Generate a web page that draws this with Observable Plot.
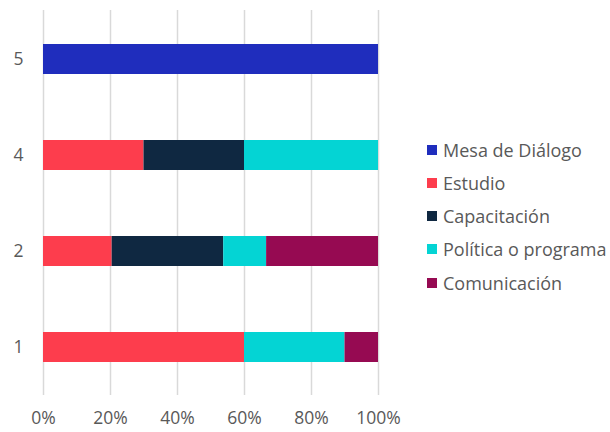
<!DOCTYPE html>
<html>
<head>
<meta charset="utf-8">
<script src="https://cdn.jsdelivr.net/npm/d3@7"></script>
<script src="https://cdn.jsdelivr.net/npm/@observablehq/plot@0.6"></script>
<style>
  html, body { margin: 0; padding: 0; background: #fff; }
  #wrap { position: relative; width: 610px; height: 432px; font-family: "Open Sans", "Noto Sans", sans-serif; }
  #wrap svg text { font-size: 17.5px !important; font-family: "Open Sans", "Noto Sans", sans-serif !important; }
  #legend { position: absolute; left: 427px; top: 133px; }
  .item { display: flex; align-items: center; height: 33.25px; font-size: 18px; color: #595959; white-space: nowrap; }
  .sw { width: 10px; height: 10px; margin-right: 6px; }
</style>
</head>
<body>
<div id="wrap"><div id="legend"></div></div>
<script>
const categories = ["5", "4", "2", "1"];
const series = ["Mesa de Diálogo", "Estudio", "Capacitación", "Política o programa", "Comunicación"];
const colors = ["#1f2dbd", "#fd3d4d", "#0f2841", "#04d4d4", "#960a52"];
// shares per category (order: 5, 4, 2, 1)
const mesa         = [1.00, 0.00, 0.000, 0.00];
const estudio      = [0.00, 0.30, 0.205, 0.60];
const capacitacion = [0.00, 0.30, 0.333, 0.00];
const politica     = [0.00, 0.40, 0.128, 0.30];
const comunicacion = [0.00, 0.00, 0.334, 0.10];
const xTicks = [0, 0.2, 0.4, 0.6, 0.8, 1];

const seriesValues = [mesa, estudio, capacitacion, politica, comunicacion];
const data = [];
categories.forEach((c, i) => {
  series.forEach((s, j) => {
    if (seriesValues[j][i] > 0) data.push({category: c, series: s, value: seriesValues[j][i]});
  });
});

const chart = Plot.plot({
  width: 610,
  height: 432,
  marginLeft: 43,
  marginRight: 232,
  marginTop: 10,
  marginBottom: 37,
  style: {fontFamily: "Open Sans, sans-serif", fontSize: "17.5px", color: "#595959", background: "white"},
  x: {domain: [0, 1], label: null},
  y: {domain: categories, paddingInner: 0.69, paddingOuter: 0.33, label: null},
  color: {domain: series, range: colors},
  marks: [
    Plot.gridX(xTicks, {stroke: "#d9d9d9", strokeOpacity: 1, strokeWidth: 1.5}),
    Plot.barX(data, {x: "value", y: "category", fill: "series", order: series}),
    Plot.axisX({ticks: xTicks, tickFormat: d3.format(".0%"), tickSize: 0, tickPadding: 16, fill: "#595959", label: null}),
    Plot.axisY({tickSize: 0, tickPadding: 20, fill: "#595959", label: null})
  ]
});
document.getElementById("wrap").prepend(chart);

const legend = document.getElementById("legend");
series.forEach((s, i) => {
  const item = document.createElement("div");
  item.className = "item";
  const sw = document.createElement("div");
  sw.className = "sw";
  sw.style.background = colors[i];
  const t = document.createElement("span");
  t.textContent = s;
  item.append(sw, t);
  legend.append(item);
});
</script>
</body>
</html>
